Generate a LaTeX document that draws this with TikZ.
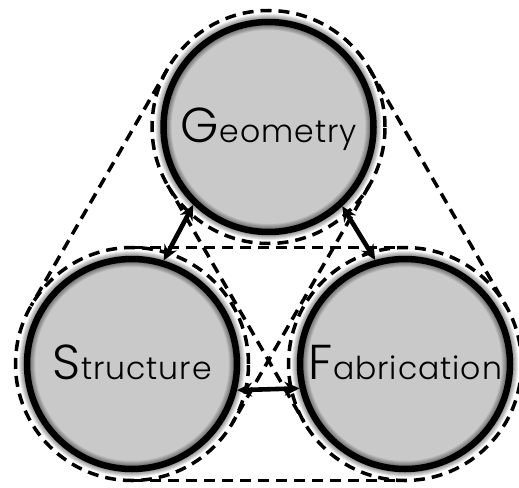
\documentclass[tikz,border=0pt]{standalone}
\usepackage{fontspec}
\setmainfont{Poppins}[UprightFont={* Light}, LetterSpace=3]
\usetikzlibrary{arrows.meta,calc}
\definecolor{fillgray}{gray}{0.79}
\tikzset{
  topic/.style={circle, draw=black, line width=6.5pt, fill=fillgray, minimum size=210pt,
    inner sep=0pt, text height=30pt, text depth=0pt,
    font=\fontsize{31.5}{34}\selectfont},
  hull/.style={circle, draw=black, line width=3.5pt, dash pattern=on 11pt off 7pt,
    minimum size=233pt, inner sep=0pt, outer sep=0pt},
  tangent/.style={draw=black, line width=3.5pt, dash pattern=on 11pt off 7pt},
  link/.style={{Stealth[length=15pt,width=14pt]}-{Stealth[length=15pt,width=14pt]}, line width=4.6pt},
  glow/.style={black, opacity=0.09},
}
\newcommand{\initialletter}[1]{{\fontsize{49}{49}\selectfont #1}\hspace{1pt}}
\begin{document}
\begin{tikzpicture}[x=1pt,y=-1pt]
\useasboundingbox (0,0) rectangle (519,487);
% dashed hulls
\node[hull] (gd) at (268.5,127) {};
\node[hull] (sd) at (132,364) {};
\node[hull] (fd) at (405,364) {};
\draw[tangent] (gd.150) -- (sd.150);
\draw[tangent] (gd.330) -- (sd.330);
\draw[tangent] (gd.30) -- (fd.30);
\draw[tangent] (gd.210) -- (fd.210);
\draw[tangent] (sd.90) -- (fd.90);
\draw[tangent] (sd.270) -- (fd.270);
% main circles
\node[topic] (G) at (268.5,127) {\initialletter{G}eometry};
\node[topic] (S) at (132,364) {\initialletter{S}tructure};
\node[topic] (F) at (405,364) {\initialletter{F}abrication};
% soft glow on both sides of each ring
\foreach \n in {G,S,F}{
  \foreach \w in {8,10,12,14,16}{
    \draw[glow, line width=\w pt] (\n.center) circle[radius=105];
  }
}
% links
\draw[link] (G.226.5) -- (S.73.5);
\draw[link] (G.313.5) -- (F.106.5);
\draw[link] (S.346.5) -- (F.193.5);
\end{tikzpicture}
\end{document}
